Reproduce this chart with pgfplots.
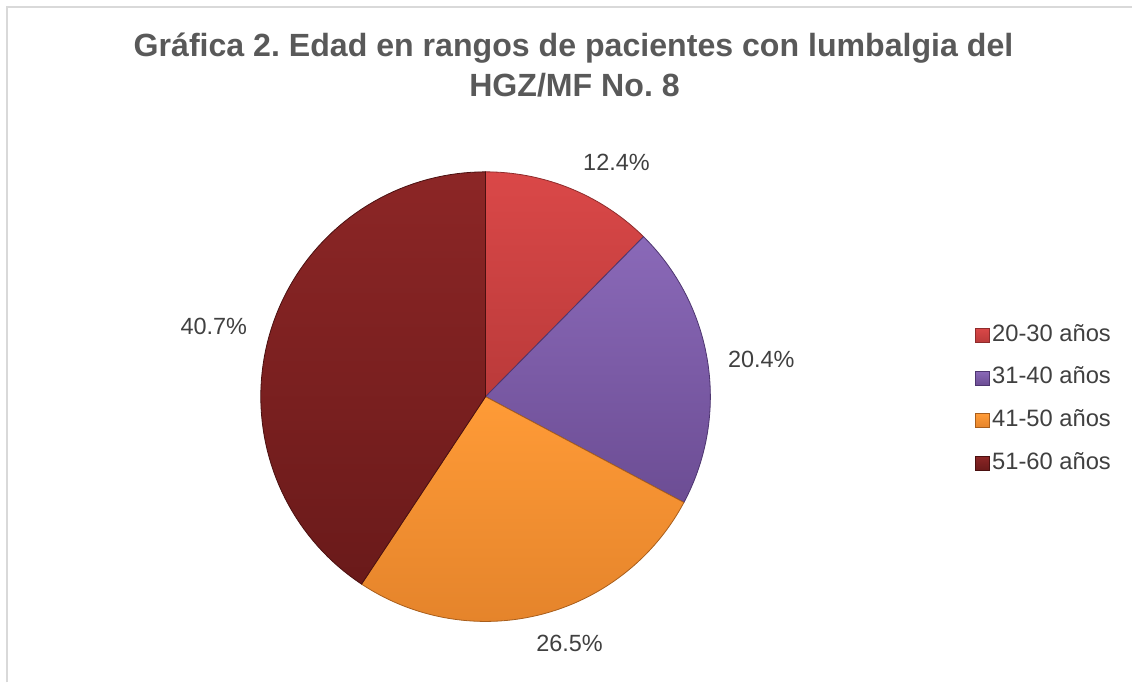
\documentclass[border=0pt]{standalone}
\usepackage{fontspec}
\setmainfont{Liberation Sans}
\usepackage{pgfplots}
\usepackage{pgfplotstable}
\pgfplotsset{compat=1.18}

\definecolor{titlegray}{HTML}{595959}
\definecolor{labgray}{HTML}{404040}
\definecolor{bordergray}{HTML}{D9D9D9}
\definecolor{rA}{HTML}{DA4848}\definecolor{rB}{HTML}{BA3A3A}\definecolor{rE}{HTML}{8E2C2C}
\definecolor{pA}{HTML}{8A69B8}\definecolor{pB}{HTML}{6C4D94}\definecolor{pE}{HTML}{4E3670}
\definecolor{oA}{HTML}{FF9B37}\definecolor{oB}{HTML}{E5842B}\definecolor{oE}{HTML}{A85E1C}
\definecolor{dA}{HTML}{8C2626}\definecolor{dB}{HTML}{6A1A1A}\definecolor{dE}{HTML}{4A1010}

\pgfplotstableread[col sep=comma]{
label,value
20-30 años,12.4
31-40 años,20.4
41-50 años,26.5
51-60 años,40.7
}\datatable

\begin{document}%
\frenchspacing%
\begin{tikzpicture}
\pgfplotstablegetelem{0}{value}\of\datatable \let\va\pgfplotsretval
\pgfplotstablegetelem{1}{value}\of\datatable \let\vb\pgfplotsretval
\pgfplotstablegetelem{2}{value}\of\datatable \let\vc\pgfplotsretval
\pgfplotstablegetelem{3}{value}\of\datatable \let\vd\pgfplotsretval
\pgfmathsetmacro\aA{90}
\pgfmathsetmacro\aB{\aA-3.6*\va}
\pgfmathsetmacro\aC{\aB-3.6*\vb}
\pgfmathsetmacro\aD{\aC-3.6*\vc}
\pgfmathsetmacro\aE{\aD-3.6*\vd}
\begin{axis}[
  scale only axis,
  width=849.75pt, height=512.25pt,
  xmin=0, xmax=1133, ymin=0, ymax=683,
  hide axis, clip=false,
  legend image code/.code={\path[#1] (0pt,-5.25pt) rectangle (10.5pt,5.25pt);},
  legend style={at={(axis cs:976,360.5)}, anchor=north west, draw=none, fill=none,
    inner sep=0pt, row sep=12.6pt, font=\fontsize{17.8}{21}\selectfont\color{labgray},
    nodes={inner sep=1.5pt, text height=12.6pt, text depth=3.8pt}},
]
\path (axis cs:0,0) rectangle (axis cs:1133,683);
\draw[bordergray, line width=1.5pt] (axis cs:7,0) -- (axis cs:7,676) -- (axis cs:1133,676);

\addplot[draw=rE, line width=0.6pt, top color=rA, bottom color=rB, domain=\aA:\aB, samples=60, variable=\t]
  ({486+225*cos(t)},{286+225*sin(t)}) -- (axis cs:486,286) -- cycle;
\addlegendentry{20-30 años}
\addplot[draw=pE, line width=0.6pt, top color=pA, bottom color=pB, domain=\aB:\aC, samples=60, variable=\t]
  ({486+225*cos(t)},{286+225*sin(t)}) -- (axis cs:486,286) -- cycle;
\addlegendentry{31-40 años}
\addplot[draw=oE, line width=0.6pt, top color=oA, bottom color=oB, domain=\aC:\aD, samples=60, variable=\t]
  ({486+225*cos(t)},{286+225*sin(t)}) -- (axis cs:486,286) -- cycle;
\addlegendentry{41-50 años}
\addplot[draw=dE, line width=0.6pt, top color=dA, bottom color=dB, domain=\aD:\aE, samples=80, variable=\t]
  ({486+225*cos(t)},{286+225*sin(t)}) -- (axis cs:486,286) -- cycle;
\addlegendentry{51-60 años}

\node[font=\fontsize{24.1}{29}\selectfont\bfseries, text=titlegray] at (axis cs:574,635) {Gráfica 2. Edad en rangos de pacientes con lumbalgia del};
\node[font=\fontsize{24.1}{29}\selectfont\bfseries, text=titlegray] at (axis cs:575,598) {HGZ/MF No. 8};

\node[font=\fontsize{17.6}{21}\selectfont, text=labgray] at (axis cs:617,520) {\va\%};
\node[font=\fontsize{17.6}{21}\selectfont, text=labgray] at (axis cs:762,323) {\vb\%};
\node[font=\fontsize{17.6}{21}\selectfont, text=labgray] at (axis cs:570,39) {\vc\%};
\node[font=\fontsize{17.6}{21}\selectfont, text=labgray] at (axis cs:214,356) {\vd\%};
\end{axis}
\end{tikzpicture}%
\end{document}
